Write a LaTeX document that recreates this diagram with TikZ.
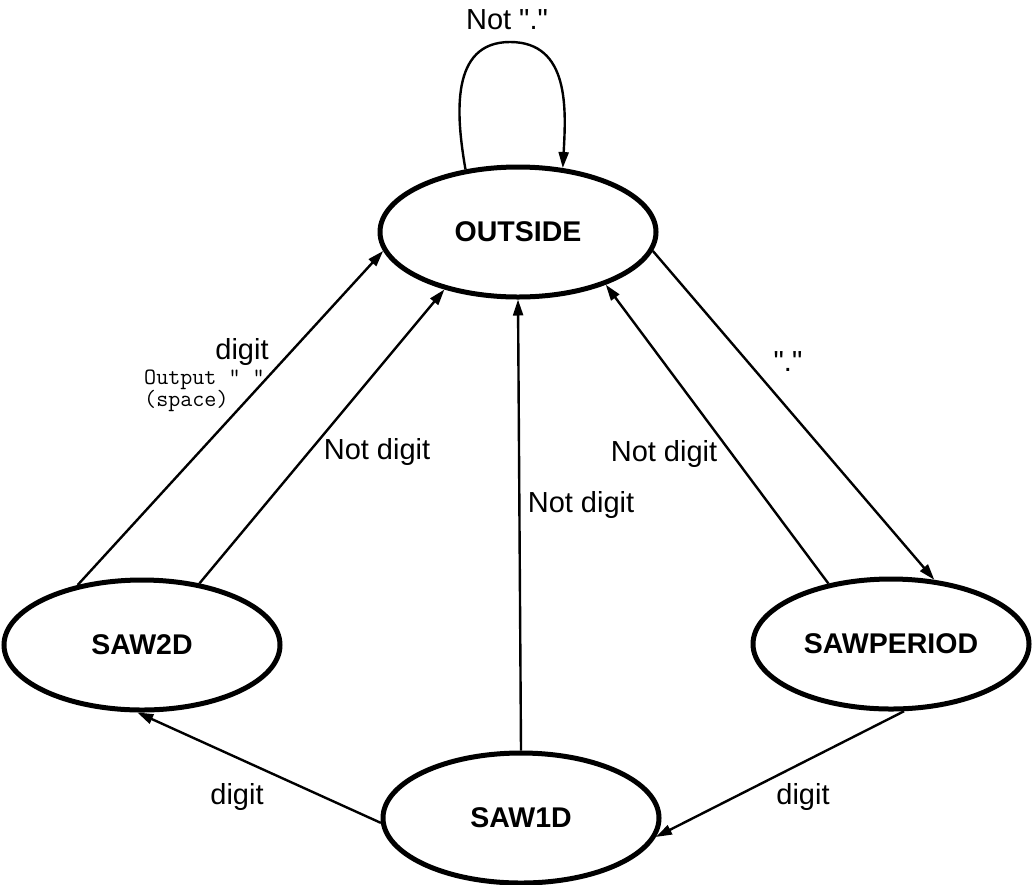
\documentclass[tikz,border=0pt]{standalone}
\usepackage{fontspec}
\setmainfont{Liberation Sans}
\newfontfamily\monofont{Latin Modern Mono}
\usetikzlibrary{shapes.geometric,arrows.meta}
\begin{document}
\begin{tikzpicture}[x=1pt,y=-1pt,
  state/.style={ellipse,draw,line width=5pt,minimum width=276pt,minimum height=130pt,inner sep=0pt,
    font=\fontsize{28.5}{32}\selectfont\bfseries},
  conn/.style={line width=2.4pt,-{Triangle[length=16pt,width=10pt]}},
  lbl/.style={font=\fontsize{29}{33}\selectfont,inner sep=0pt},
  mono/.style={font=\fontsize{23.4}{22}\selectfont\monofont,inner sep=0pt,align=left}]
\useasboundingbox (0,0) rectangle (1032,884);
\node[state] (outside) at (518,232) {OUTSIDE};
\node[state] (saw2d) at (142,645) {SAW2D};
\node[state] (sawperiod) at (891,644) {SAWPERIOD};
\node[state] (saw1d) at (521,818) {SAW1D};
% self loop
\coordinate (looptop) at (510,42);
\draw[conn] (outside.130) .. controls (456,115) and (450,42) .. (looptop)
  .. controls (570,42) and (566,110) .. (outside.55);
\node[lbl] (lnotdot) at (507,20) {Not \textquotedbl.\textquotedbl};
% SAW2D -> OUTSIDE
\draw[conn] (saw2d.137) -- (outside.188);
\node[lbl] (ldigit1) at (242,352) {digit};
\node[mono,anchor=north west] (lout) at (144,370) {Output " "\\(space)};
\draw[conn] (saw2d.47) -- (outside.218);
\node[lbl] (lnd1) at (377,452) {Not digit};
% SAW1D -> OUTSIDE
\draw[conn] (saw1d.north) -- (outside.south);
\node[lbl] (lnd2) at (581,505) {Not digit};
% SAWPERIOD -> OUTSIDE
\draw[conn] (sawperiod.136) -- (outside.329.5);
\node[lbl] (lnd3) at (664,454) {Not digit};
% OUTSIDE -> SAWPERIOD
\draw[conn] (outside.352) -- (sawperiod.56.5);
\node[lbl] (ldot) at (788,362) {\textquotedbl.\textquotedbl};
% SAW1D -> SAW2D
\draw[conn] (saw1d.182.5) -- (saw2d.266);
\node[lbl] (ldigit2) at (237,797) {digit};
% SAWPERIOD -> SAW1D
\draw[conn] (sawperiod.281) -- (saw1d.352.7);
\node[lbl] (ldigit3) at (803,797) {digit};
\end{tikzpicture}
\end{document}
